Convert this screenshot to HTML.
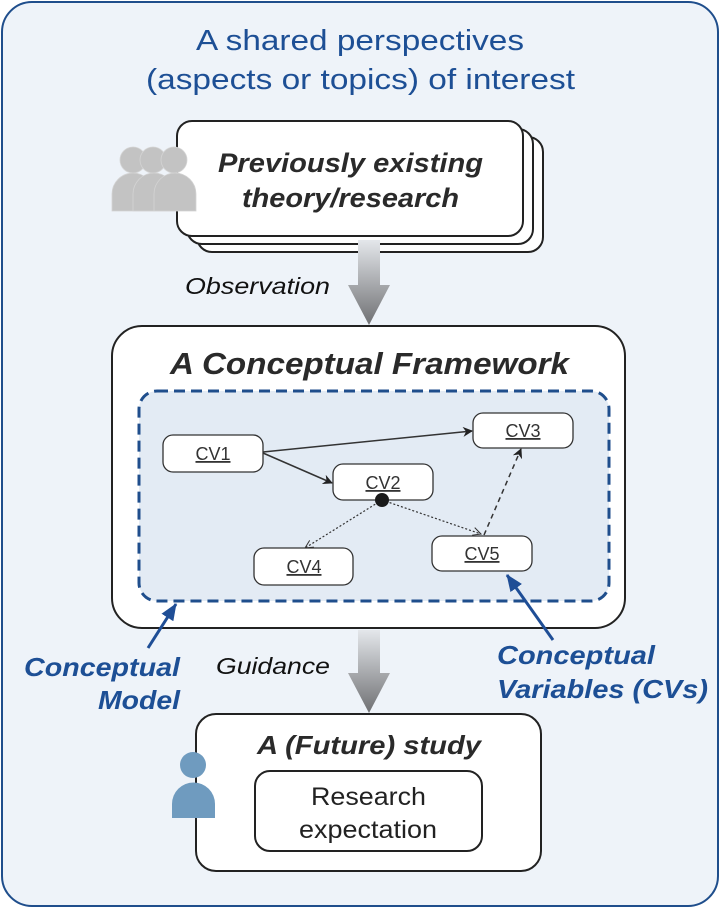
<!DOCTYPE html>
<html><head><meta charset="utf-8"><style>html,body{margin:0;padding:0;background:#fff}svg{display:block}</style></head>
<body>
<svg width="726" height="909" viewBox="0 0 726 909" xmlns="http://www.w3.org/2000/svg" font-family="Liberation Sans, Arial, sans-serif">
<defs>
<linearGradient id="g" x1="0" y1="0" x2="0" y2="1"><stop offset="0" stop-color="#e4e7eb"/><stop offset="1" stop-color="#6f7073"/></linearGradient>
<marker id="af" markerWidth="10" markerHeight="10" refX="9" refY="5" orient="auto" markerUnits="userSpaceOnUse"><path d="M0,0 L10,5 L0,10 L3,5z" fill="#222"/></marker>
<marker id="ao" markerWidth="10" markerHeight="10" refX="9" refY="5" orient="auto" markerUnits="userSpaceOnUse"><path d="M1,1 L9,5 L1,9" fill="none" stroke="#333" stroke-width="1"/></marker>
<marker id="ab" markerWidth="18" markerHeight="18" refX="16" refY="9" orient="auto" markerUnits="userSpaceOnUse"><path d="M0,2 L17,9 L0,16 z" fill="#1f4e96"/></marker>
</defs>
<rect x="2" y="2" width="716" height="904" rx="30" fill="#eef3f9" stroke="#1f4e8c" stroke-width="2"/>
<text x="196" y="50" font-size="29" fill="#1d4f95" textLength="328" lengthAdjust="spacingAndGlyphs">A shared perspectives</text>
<text x="146" y="89" font-size="29" fill="#1d4f95" textLength="429" lengthAdjust="spacingAndGlyphs">(aspects or topics) of interest</text>

<rect x="197" y="137" width="346" height="115" rx="15" fill="#fff" stroke="#222" stroke-width="2"/>
<rect x="187" y="129" width="346" height="115" rx="15" fill="#fff" stroke="#222" stroke-width="2"/>
<rect x="177" y="121" width="346" height="115" rx="15" fill="#fff" stroke="#222" stroke-width="2"/>
<text x="218" y="172" font-size="27" font-weight="bold" font-style="italic" fill="#2a2a2a" textLength="265" lengthAdjust="spacingAndGlyphs">Previously existing</text>
<text x="242" y="207" font-size="27" font-weight="bold" font-style="italic" fill="#2a2a2a" textLength="217" lengthAdjust="spacingAndGlyphs">theory/research</text>

<g fill="#c3c3c3" stroke="#d4d4d4" stroke-width="0.8">
<circle cx="133" cy="160" r="13"/><circle cx="153" cy="160" r="13"/><circle cx="174" cy="160" r="13"/>
<path d="M112,211 V194 a21,21 0 0 1 42,0 V211z"/>
<path d="M133,211 V194 a21,21 0 0 1 42,0 V211z"/>
<path d="M154,211 V194 a21,21 0 0 1 42,0 V211z"/>
</g>

<path d="M358,240 H380 V285 H390 L369,325 L348,285 H358z" fill="url(#g)"/>
<text x="185" y="294" font-size="23" font-style="italic" fill="#111" textLength="145" lengthAdjust="spacingAndGlyphs">Observation</text>

<rect x="112" y="326" width="513" height="302" rx="30" fill="#fff" stroke="#222" stroke-width="2"/>
<text x="170" y="374" font-size="31" font-weight="bold" font-style="italic" fill="#2a2a2a" textLength="399" lengthAdjust="spacingAndGlyphs">A Conceptual Framework</text>
<rect x="139" y="391" width="470" height="210" rx="18" fill="#e3ebf4" stroke="#1f4e8c" stroke-width="3" stroke-dasharray="11 6"/>

<g stroke="#333" stroke-width="1.5">
<line x1="263" y1="452" x2="472" y2="431" marker-end="url(#af)"/>
<line x1="263" y1="453" x2="332" y2="483" marker-end="url(#af)"/>
<line x1="382" y1="500" x2="305" y2="548" stroke-width="1.2" stroke-dasharray="2 2" marker-end="url(#ao)"/>
<line x1="382" y1="500" x2="481" y2="534" stroke-width="1.2" stroke-dasharray="2 2" marker-end="url(#ao)"/>
<line x1="484" y1="535" x2="521" y2="449" stroke-dasharray="5 4" marker-end="url(#af)"/>
</g>
<g fill="#fff" stroke="#333" stroke-width="1.3">
<rect x="163" y="435" width="100" height="37" rx="10"/>
<rect x="333" y="464" width="100" height="36" rx="10"/>
<rect x="473" y="413" width="100" height="35" rx="10"/>
<rect x="254" y="548" width="99" height="37" rx="10"/>
<rect x="432" y="536" width="100" height="35" rx="10"/>
</g>
<circle cx="382" cy="500" r="7" fill="#1a1a1a"/>
<g font-size="18" fill="#333" text-anchor="middle" text-decoration="underline">
<text x="213" y="460">CV1</text><text x="383" y="489">CV2</text><text x="523" y="437">CV3</text>
<text x="304" y="573">CV4</text><text x="482" y="560">CV5</text>
</g>

<line x1="148" y1="648" x2="176" y2="604" stroke="#1f4e96" stroke-width="3" marker-end="url(#ab)"/>
<line x1="553" y1="640" x2="507" y2="575" stroke="#1f4e96" stroke-width="3" marker-end="url(#ab)"/>
<g font-size="26" font-weight="bold" font-style="italic" fill="#1d4f95" lengthAdjust="spacingAndGlyphs">
<text x="24" y="676" textLength="156" lengthAdjust="spacingAndGlyphs">Conceptual</text><text x="98" y="709" textLength="82" lengthAdjust="spacingAndGlyphs">Model</text>
<text x="497" y="664" textLength="158" lengthAdjust="spacingAndGlyphs">Conceptual</text><text x="497" y="698" textLength="211" lengthAdjust="spacingAndGlyphs">Variables (CVs)</text>
</g>

<path d="M358,630 H380 V673 H390 L369,713 L348,673 H358z" fill="url(#g)"/>
<text x="216" y="674" font-size="23" font-style="italic" fill="#111" textLength="114" lengthAdjust="spacingAndGlyphs">Guidance</text>

<rect x="196" y="714" width="345" height="157" rx="20" fill="#fff" stroke="#222" stroke-width="2"/>
<text x="257" y="754" font-size="26" font-weight="bold" font-style="italic" fill="#2a2a2a" textLength="224" lengthAdjust="spacingAndGlyphs">A (Future) study</text>
<rect x="255" y="771" width="227" height="80" rx="15" fill="#fff" stroke="#222" stroke-width="2"/>
<text x="311" y="805" font-size="25" fill="#222" textLength="115" lengthAdjust="spacingAndGlyphs">Research</text>
<text x="299" y="838" font-size="25" fill="#222" textLength="138" lengthAdjust="spacingAndGlyphs">expectation</text>
<g fill="#6f9bbf"><circle cx="193" cy="765" r="13"/><path d="M172,818 V804 a21.5,21.5 0 0 1 43,0 V818z"/></g>
</svg>
</body></html>
